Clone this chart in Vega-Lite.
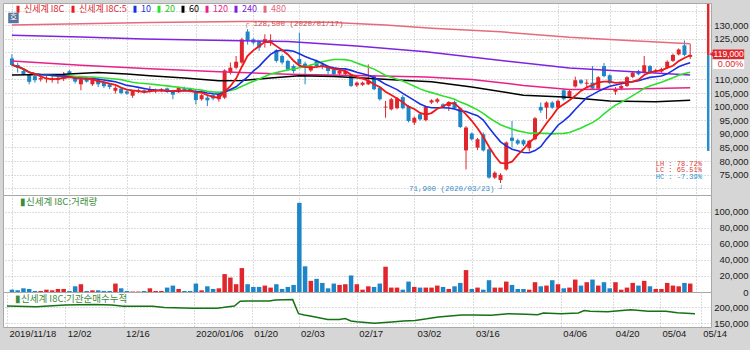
{
 "$schema": "https://vega.github.io/schema/vega-lite/v6.json",
 "padding": {"left": 2, "top": 2, "right": 4, "bottom": 12},
 "background": "#d6d6d6",
 "spacing": 0,
 "bounds": "flush",
 "data": {"values": [
  {"d":"2019-11-18","o":117700,"h":119200,"l":115000,"c":115300,"v":2900,"ma60":111600,"ma120":116800,"ma240":126200,"ma480":130000,"inst":204000},
  {"d":"2019-11-19","o":115300,"h":116100,"l":112500,"c":114200,"v":2100},
  {"d":"2019-11-20","o":113100,"h":113700,"l":111500,"c":111900,"v":4600},
  {"d":"2019-11-21","o":111600,"h":112000,"l":108200,"c":109100,"v":3800},
  {"d":"2019-11-22","o":111200,"h":111900,"l":108800,"c":109700,"v":1300},
  {"d":"2019-11-25","o":110000,"h":111600,"l":109200,"c":110500,"v":1300,"inst":202000},
  {"d":"2019-11-26","o":110200,"h":111200,"l":108800,"c":110500,"v":2900},
  {"d":"2019-11-27","o":110000,"h":111900,"l":108800,"c":110400,"v":2100},
  {"d":"2019-11-28","o":109800,"h":111200,"l":108400,"c":110200,"v":3800},
  {"d":"2019-11-29","o":110300,"h":112700,"l":109400,"c":111000,"v":3800,"ma60":111900},
  {"d":"2019-12-02","o":113000,"h":113400,"l":111900,"c":112100,"v":1300,"inst":207000},
  {"d":"2019-12-03","o":110600,"h":111200,"l":108500,"c":109200,"v":7100},
  {"d":"2019-12-04","o":108200,"h":110600,"l":106000,"c":110000,"v":9700,"ma120":115200,"ma240":125600,"ma480":130500},
  {"d":"2019-12-05","o":110400,"h":110900,"l":108800,"c":109200,"v":1300},
  {"d":"2019-12-06","o":108200,"h":110400,"l":107600,"c":110000,"v":2100},
  {"d":"2019-12-09","o":110000,"h":110400,"l":107200,"c":108200,"v":2100,"ma60":112500,"inst":209000},
  {"d":"2019-12-10","o":108900,"h":109300,"l":106800,"c":107500,"v":1300},
  {"d":"2019-12-11","o":108200,"h":108600,"l":106400,"c":107200,"v":1300},
  {"d":"2019-12-12","o":105800,"h":107500,"l":104800,"c":106900,"v":10500,"inst":207000},
  {"d":"2019-12-13","o":106600,"h":107000,"l":104500,"c":105000,"v":4600},
  {"d":"2019-12-16","o":105600,"h":106000,"l":104300,"c":104800,"v":1300,"ma60":112000,"inst":203000},
  {"d":"2019-12-17","o":104000,"h":106000,"l":103200,"c":105800,"v":600},
  {"d":"2019-12-18","o":105500,"h":106600,"l":105000,"c":106000,"v":600},
  {"d":"2019-12-19","o":106000,"h":106400,"l":104800,"c":105300,"v":1300,"ma240":124900},
  {"d":"2019-12-20","o":105600,"h":107500,"l":105200,"c":106200,"v":4600,"ma60":111300,"ma120":113900,"ma480":130900},
  {"d":"2019-12-23","o":105600,"h":106600,"l":105000,"c":106000,"v":1300,"inst":203000},
  {"d":"2019-12-24","o":105800,"h":106800,"l":105300,"c":106300,"v":1300},
  {"d":"2019-12-26","o":106700,"h":107000,"l":105000,"c":105500,"v":5500,"inst":199000},
  {"d":"2019-12-27","o":105900,"h":106200,"l":102700,"c":104400,"v":8000},
  {"d":"2019-12-30","o":105300,"h":107400,"l":105000,"c":107000,"v":3800},
  {"d":"2020-01-02","o":106800,"h":107300,"l":105600,"c":106200,"v":1300,"ma60":110500},
  {"d":"2020-01-03","o":106500,"h":106900,"l":105200,"c":106000,"v":1300},
  {"d":"2020-01-06","o":105500,"h":106300,"l":100800,"c":102400,"v":10500,"inst":197000},
  {"d":"2020-01-07","o":102700,"h":104600,"l":102200,"c":104200,"v":2100},
  {"d":"2020-01-08","o":103300,"h":104000,"l":100200,"c":102300,"v":7100},
  {"d":"2020-01-09","o":104200,"h":104600,"l":102300,"c":103000,"v":3800,"ma240":124400},
  {"d":"2020-01-10","o":102700,"h":105000,"l":101800,"c":104500,"v":4600,"ma60":109500,"ma120":112800,"inst":197000},
  {"d":"2020-01-13","o":103300,"h":113700,"l":102800,"c":113300,"v":22300,"inst":199000},
  {"d":"2020-01-14","o":112500,"h":116200,"l":111800,"c":114300,"v":18000},
  {"d":"2020-01-15","o":114300,"h":118600,"l":113700,"c":116500,"v":9700,"inst":204000},
  {"d":"2020-01-16","o":116200,"h":125300,"l":115800,"c":124700,"v":29800,"ma60":109600,"ma480":131300,"inst":219000},
  {"d":"2020-01-17","o":127600,"h":128500,"l":122800,"c":124400,"v":9700,"inst":220000},
  {"d":"2020-01-20","o":124700,"h":125200,"l":122800,"c":123500,"v":6300},
  {"d":"2020-01-21","o":124100,"h":124400,"l":120500,"c":121700,"v":6300},
  {"d":"2020-01-22","o":124100,"h":126600,"l":121700,"c":124800,"v":8000},
  {"d":"2020-01-23","o":124000,"h":126600,"l":122300,"c":124400,"v":5500,"ma60":110500,"inst":220000},
  {"d":"2020-01-28","o":120700,"h":121100,"l":116200,"c":116800,"v":9700,"inst":223000},
  {"d":"2020-01-29","o":118600,"h":119200,"l":115500,"c":116200,"v":3800},
  {"d":"2020-01-30","o":116800,"h":117200,"l":113100,"c":113700,"v":6300,"ma120":111900,"ma240":123900},
  {"d":"2020-01-31","o":114900,"h":115500,"l":112300,"c":113100,"v":8800,"inst":224000},
  {"d":"2020-02-03","o":117500,"h":127200,"l":114500,"c":115500,"v":111000,"ma60":111300,"inst":180000},
  {"d":"2020-02-04","o":115800,"h":116500,"l":108200,"c":114500,"v":32000,"inst":176000},
  {"d":"2020-02-05","o":113300,"h":115500,"l":112800,"c":114900,"v":13900,"inst":173000},
  {"d":"2020-02-06","o":116800,"h":117200,"l":114300,"c":114900,"v":16400},
  {"d":"2020-02-07","o":115500,"h":116000,"l":113700,"c":114600,"v":11300},
  {"d":"2020-02-10","o":114900,"h":115200,"l":111900,"c":113100,"v":4600,"ma480":131000,"inst":162000},
  {"d":"2020-02-11","o":113700,"h":114000,"l":111500,"c":111900,"v":10500,"ma60":111100},
  {"d":"2020-02-12","o":112100,"h":113500,"l":111600,"c":113100,"v":8800,"inst":162000},
  {"d":"2020-02-13","o":112000,"h":113700,"l":111500,"c":113100,"v":9700,"inst":165000},
  {"d":"2020-02-14","o":111300,"h":111600,"l":107200,"c":107600,"v":20600,"inst":157000},
  {"d":"2020-02-17","o":107800,"h":109200,"l":107200,"c":108800,"v":9700,"ma120":111400,"ma240":122300,"inst":155000},
  {"d":"2020-02-18","o":108000,"h":109200,"l":107600,"c":108800,"v":2900,"ma60":110500},
  {"d":"2020-02-19","o":108200,"h":115500,"l":107900,"c":109400,"v":7100,"inst":152000},
  {"d":"2020-02-20","o":111300,"h":111600,"l":106000,"c":106400,"v":6300,"inst":150000},
  {"d":"2020-02-21","o":107000,"h":107300,"l":102200,"c":102700,"v":10500},
  {"d":"2020-02-24","o":99700,"h":102100,"l":95900,"c":100000,"v":31500,"ma480":130000},
  {"d":"2020-02-25","o":99000,"h":103200,"l":98600,"c":102700,"v":5500,"inst":154000},
  {"d":"2020-02-26","o":99400,"h":103500,"l":99000,"c":103000,"v":5500,"ma60":109800},
  {"d":"2020-02-27","o":103500,"h":104200,"l":99000,"c":99400,"v":2900,"inst":157000},
  {"d":"2020-02-28","o":100200,"h":100600,"l":94200,"c":94700,"v":13000},
  {"d":"2020-03-02","o":94100,"h":96400,"l":93200,"c":95900,"v":6300,"inst":159000},
  {"d":"2020-03-03","o":97200,"h":97600,"l":94800,"c":95300,"v":5500},
  {"d":"2020-03-04","o":95000,"h":100300,"l":94600,"c":99900,"v":5500,"ma120":110900,"ma240":120200,"inst":164000},
  {"d":"2020-03-05","o":101500,"h":102700,"l":101000,"c":102300,"v":5500,"ma60":109100,"ma480":128800},
  {"d":"2020-03-06","o":101800,"h":103200,"l":101200,"c":102700,"v":8000,"inst":170000},
  {"d":"2020-03-09","o":100850,"h":101200,"l":99500,"c":99900,"v":6300},
  {"d":"2020-03-10","o":100200,"h":102000,"l":98400,"c":101700,"v":3800,"inst":173000},
  {"d":"2020-03-11","o":101700,"h":102200,"l":99000,"c":99400,"v":7100},
  {"d":"2020-03-12","o":99400,"h":99700,"l":92100,"c":92500,"v":11300,"inst":176000},
  {"d":"2020-03-13","o":83900,"h":92800,"l":76900,"c":92300,"v":27300},
  {"d":"2020-03-16","o":90100,"h":90500,"l":87500,"c":88000,"v":3800,"ma60":107200,"ma120":110000,"inst":176000},
  {"d":"2020-03-17","o":84900,"h":88500,"l":84000,"c":88000,"v":5500},
  {"d":"2020-03-18","o":89800,"h":90500,"l":83500,"c":83900,"v":2900},
  {"d":"2020-03-19","o":84300,"h":84800,"l":73500,"c":73900,"v":14700,"inst":175000},
  {"d":"2020-03-20","o":73900,"h":76200,"l":73400,"c":75700,"v":5500,"ma240":117200},
  {"d":"2020-03-23","o":73000,"h":75500,"l":71900,"c":74900,"v":5500,"ma480":127500},
  {"d":"2020-03-24","o":76900,"h":87200,"l":76500,"c":86800,"v":13000,"inst":180000},
  {"d":"2020-03-25","o":88600,"h":94700,"l":84900,"c":87400,"v":8800},
  {"d":"2020-03-26","o":87600,"h":88200,"l":85900,"c":86400,"v":3800},
  {"d":"2020-03-27","o":87600,"h":88000,"l":85500,"c":86100,"v":3800,"ma60":104200,"ma120":107800,"inst":178000},
  {"d":"2020-03-30","o":84700,"h":87800,"l":83500,"c":87400,"v":2900},
  {"d":"2020-03-31","o":88000,"h":96200,"l":87600,"c":95700,"v":12200,"inst":177000},
  {"d":"2020-04-01","o":99900,"h":101500,"l":97700,"c":98600,"v":7100,"inst":182000},
  {"d":"2020-04-02","o":99600,"h":101900,"l":95400,"c":101500,"v":8000},
  {"d":"2020-04-03","o":101500,"h":102000,"l":99200,"c":99600,"v":14700},
  {"d":"2020-04-06","o":99600,"h":102600,"l":99200,"c":102100,"v":9700,"inst":180000},
  {"d":"2020-04-07","o":106000,"h":106400,"l":102200,"c":102700,"v":4600,"ma60":103500},
  {"d":"2020-04-08","o":103600,"h":106100,"l":103200,"c":105700,"v":5500,"ma120":106300,"ma240":114200,"ma480":125500},
  {"d":"2020-04-09","o":107400,"h":111000,"l":107000,"c":109700,"v":15500,"inst":182000},
  {"d":"2020-04-10","o":109700,"h":110100,"l":108200,"c":108600,"v":8000,"inst":190000},
  {"d":"2020-04-13","o":108400,"h":110000,"l":106700,"c":108800,"v":12200,"inst":188000},
  {"d":"2020-04-14","o":108800,"h":114900,"l":106200,"c":106600,"v":15500},
  {"d":"2020-04-16","o":106600,"h":111200,"l":106200,"c":110800,"v":8000},
  {"d":"2020-04-17","o":114900,"h":116000,"l":110800,"c":111200,"v":12200,"inst":186000},
  {"d":"2020-04-20","o":111500,"h":111900,"l":108200,"c":108600,"v":4600,"ma60":102100},
  {"d":"2020-04-21","o":105500,"h":107200,"l":104300,"c":106400,"v":12200,"ma120":106400},
  {"d":"2020-04-22","o":106600,"h":108000,"l":106000,"c":107600,"v":2900,"inst":191000},
  {"d":"2020-04-23","o":107600,"h":111200,"l":107200,"c":110800,"v":5500,"inst":192000},
  {"d":"2020-04-24","o":110900,"h":112900,"l":110500,"c":112500,"v":11300,"ma240":112800,"ma480":124200,"inst":191000},
  {"d":"2020-04-27","o":113100,"h":113500,"l":111500,"c":111900,"v":8000},
  {"d":"2020-04-28","o":112500,"h":118600,"l":112100,"c":115200,"v":13900,"inst":188000},
  {"d":"2020-04-29","o":114900,"h":115300,"l":112100,"c":112500,"v":7100},
  {"d":"2020-05-04","o":112800,"h":113900,"l":112300,"c":113300,"v":3800,"ma60":101800},
  {"d":"2020-05-06","o":112900,"h":114300,"l":112500,"c":113800,"v":3800,"inst":188000},
  {"d":"2020-05-07","o":114300,"h":117000,"l":114000,"c":116500,"v":11300},
  {"d":"2020-05-08","o":116800,"h":119500,"l":116400,"c":119000,"v":8000,"inst":183000},
  {"d":"2020-05-11","o":119200,"h":121400,"l":118800,"c":121000,"v":7100},
  {"d":"2020-05-12","o":122500,"h":124300,"l":118500,"c":119000,"v":11300},
  {"d":"2020-05-13","o":118300,"h":123000,"l":117500,"c":119000,"v":10500,"ma60":102300,"ma120":106900,"ma240":111600,"ma480":123100,"inst":180000}
 ]},
 "config": {
  "view": {"fill": "white", "stroke": "#a8a8a8", "strokeWidth": 1},
  "font": "Liberation Sans",
  "axis": {"domain": false, "ticks": false, "grid": true, "gridColor": "#b8b8b8", "gridDash": [1, 2], "gridWidth": 1,
           "labelFont": "Liberation Sans", "labelFontSize": 9.5, "labelColor": "#1a1a1a", "labelOverlap": false}
 },
 "vconcat": [
  {
   "width": 708, "height": 192,
   "transform": [
    {"window": [{"op": "row_number", "as": "n"}], "sort": [{"field": "d"}]},
    {"window": [{"op": "mean", "field": "c", "as": "ma5"}], "frame": [-4, 0], "sort": [{"field": "d"}]},
    {"window": [{"op": "mean", "field": "c", "as": "ma10"}], "frame": [-9, 0], "sort": [{"field": "d"}]},
    {"window": [{"op": "mean", "field": "c", "as": "ma20"}], "frame": [-19, 0], "sort": [{"field": "d"}]}
   ],
   "encoding": {
    "x": {"field": "n", "type": "quantitative", "title": null,
          "scale": {"domain": [0.314, 121.75], "nice": false, "zero": false},
          "axis": {"values": [1, 11, 21, 33, 43, 51, 61, 71, 81, 96, 105, 113, 120], "labels": false, "grid": true}},
    "y": {"field": "l", "type": "quantitative", "title": null,
          "scale": {"domain": [67500, 138090], "nice": false, "zero": false},
          "axis": {"orient": "right", "values": [70000, 75000, 80000, 85000, 90000, 95000, 100000, 105000, 110000, 115000, 120000, 125000, 130000, 135000],
                   "labelExpr": "datum.value > 130000 || datum.value < 75000 || datum.value === 120000 || datum.value === 115000 ? '' : format(datum.value, ',')",
                   "labelAlign": "right", "labelPadding": 37, "labelOverlap": false}}
   },
   "layer": [
    {"mark": {"type": "rule", "strokeWidth": 1},
     "encoding": {
      "y2": {"field": "h"},
      "color": {"condition": {"test": "datum.c >= datum.o", "value": "#e0262c"}, "value": "#1e86c6"}
     }},
    {"mark": {"type": "bar", "size": 4, "orient": "vertical"},
     "encoding": {
      "y": {"field": "o", "type": "quantitative"},
      "y2": {"field": "c"},
      "color": {"condition": {"test": "datum.c >= datum.o", "value": "#e0262c"}, "value": "#1e86c6"}
     }},
    {"transform": [{"filter": "isValid(datum.ma480)"}],
     "mark": {"type": "line", "strokeWidth": 1.5},
     "encoding": {
      "y": {"field": "ma480", "type": "quantitative"},
      "color": {"datum": "480",
                "scale": {"domain": ["신세계 I8C", "신세계 I8C:5", "10", "20", "60", "120", "240", "480"],
                          "range": ["#e0262c", "#f01818", "#1830e0", "#2ee02e", "#000000", "#e8208a", "#7d24e0", "#e66a7c"]},
                "legend": {"title": null, "orient": "none", "legendX": 10, "legendY": 1, "direction": "horizontal",
                           "symbolType": "M0,-1V1", "symbolSize": 49, "symbolStrokeWidth": 3, "labelFont": "Noto Sans CJK KR",
                           "labelFontSize": 9, "labelOffset": 1, "columnPadding": 2, "padding": 0, "labelLimit": 200,
                           "encode": {"labels": {"update": {"fill": {"signal": "datum.value === '10' ? '#1830e0' : datum.value === '20' ? '#22c822' : datum.value === '60' ? '#000000' : datum.value === '120' ? '#e8208a' : datum.value === '240' ? '#7d24e0' : datum.value === '480' ? '#e66a7c' : '#e0262c'"}}}}}}
     }},
    {"transform": [{"filter": "isValid(datum.ma240)"}],
     "mark": {"type": "line", "strokeWidth": 1.5},
     "encoding": {"y": {"field": "ma240", "type": "quantitative"}, "color": {"datum": "240"}}},
    {"transform": [{"filter": "isValid(datum.ma120)"}],
     "mark": {"type": "line", "strokeWidth": 1.5},
     "encoding": {"y": {"field": "ma120", "type": "quantitative"}, "color": {"datum": "120"}}},
    {"transform": [{"filter": "isValid(datum.ma60)"}],
     "mark": {"type": "line", "strokeWidth": 1.5},
     "encoding": {"y": {"field": "ma60", "type": "quantitative"}, "color": {"datum": "60"}}},
    {"mark": {"type": "line", "strokeWidth": 1.6},
     "encoding": {"y": {"field": "ma20", "type": "quantitative"}, "color": {"datum": "20"}}},
    {"mark": {"type": "line", "strokeWidth": 1.6},
     "encoding": {"y": {"field": "ma10", "type": "quantitative"}, "color": {"datum": "10"}}},
    {"mark": {"type": "line", "strokeWidth": 1.8},
     "encoding": {"y": {"field": "ma5", "type": "quantitative"}, "color": {"datum": "신세계 I8C:5"}}},
    {"transform": [{"filter": "datum.h === 128500"}],
     "mark": {"type": "text", "align": "left", "baseline": "middle", "font": "Liberation Mono", "fontSize": 7.5, "color": "#d04848", "dx": -3, "dy": -5},
     "encoding": {"y": {"field": "h", "type": "quantitative"}, "text": {"value": "┌ 128,500 (2020/01/17)"}}},
    {"transform": [{"filter": "datum.l === 71900"}],
     "mark": {"type": "text", "align": "right", "baseline": "middle", "font": "Liberation Mono", "fontSize": 7.5, "color": "#3a8cc8", "dx": 3, "dy": 6},
     "encoding": {"y": {"field": "l", "type": "quantitative"}, "text": {"value": "71,900 (2020/03/23) ┘"}}},
    {"transform": [{"filter": "datum.n === 113"}],
     "mark": {"type": "text", "align": "left", "baseline": "middle", "font": "Liberation Mono", "fontSize": 7, "color": "#d83838", "dy": 93.3},
     "encoding": {"y": {"field": "c", "type": "quantitative"}, "text": {"value": "LH : 78.72%"}}},
    {"transform": [{"filter": "datum.n === 113"}],
     "mark": {"type": "text", "align": "left", "baseline": "middle", "font": "Liberation Mono", "fontSize": 7, "color": "#d83838", "dy": 100},
     "encoding": {"y": {"field": "c", "type": "quantitative"}, "text": {"value": "LC : 65.51%"}}},
    {"transform": [{"filter": "datum.n === 113"}],
     "mark": {"type": "text", "align": "left", "baseline": "middle", "font": "Liberation Mono", "fontSize": 7, "color": "#2f8fd0", "dy": 106.7},
     "encoding": {"y": {"field": "c", "type": "quantitative"}, "text": {"value": "HC : -7.39%"}}},
    {"transform": [{"filter": "datum.n === 119"}],
     "mark": {"type": "rule", "color": "#e0262c", "strokeWidth": 2.5, "xOffset": 18, "x2Offset": 18, "y2Offset": -51},
     "encoding": {"y": {"field": "c", "type": "quantitative"}, "y2": {"field": "c"}}},
    {"transform": [{"filter": "datum.n === 119"}],
     "mark": {"type": "rule", "color": "#2a8cc8", "strokeWidth": 2.5, "xOffset": 18, "x2Offset": 18, "y2Offset": 96},
     "encoding": {"y": {"field": "c", "type": "quantitative"}, "y2": {"field": "c"}}},
    {"transform": [{"filter": "datum.n === 119"}],
     "mark": {"type": "rect", "color": "#e0262c", "xOffset": 22.5, "x2Offset": 54, "yOffset": -5.5, "y2Offset": 4},
     "encoding": {"y": {"field": "c", "type": "quantitative"}, "x2": {"field": "n"}, "y2": {"field": "c"}}},
    {"transform": [{"filter": "datum.n === 119"}],
     "mark": {"type": "point", "shape": "triangle-left", "size": 18, "filled": true, "opacity": 1, "color": "#e0262c", "xOffset": 21, "yOffset": -0.7},
     "encoding": {"y": {"field": "c", "type": "quantitative"}}},
    {"transform": [{"filter": "datum.n === 119"}],
     "mark": {"type": "rect", "color": "white", "xOffset": 22.5, "x2Offset": 54, "yOffset": 5, "y2Offset": 14},
     "encoding": {"y": {"field": "c", "type": "quantitative"}, "x2": {"field": "n"}, "y2": {"field": "c"}}},
    {"transform": [{"filter": "datum.n === 119"}],
     "mark": {"type": "text", "align": "right", "baseline": "middle", "font": "Liberation Sans", "fontSize": 8.5, "color": "white", "dx": 53.5, "dy": -0.7},
     "encoding": {"y": {"field": "c", "type": "quantitative"}, "text": {"field": "c", "format": ","}}},
    {"transform": [{"filter": "datum.n === 119"}],
     "mark": {"type": "text", "align": "right", "baseline": "middle", "font": "Liberation Sans", "fontSize": 9, "color": "#e0262c", "dx": 53, "dy": 9.5},
     "encoding": {"y": {"field": "c", "type": "quantitative"}, "text": {"value": "0.00%"}}},
    {"transform": [{"filter": "datum.n === 1"}],
     "mark": {"type": "point", "shape": "square", "size": 110, "filled": true, "opacity": 1, "color": "#56749c", "xOffset": 1.5, "yOffset": -47},
     "encoding": {"y": {"field": "c", "type": "quantitative"}}},
    {"transform": [{"filter": "datum.n === 1"}],
     "mark": {"type": "text", "align": "center", "baseline": "middle", "font": "Noto Sans CJK KR", "fontSize": 8, "color": "white", "dx": 1.5, "dy": -47},
     "encoding": {"y": {"field": "c", "type": "quantitative"}, "text": {"value": "호"}}}
   ]
  },
  {
   "width": 708, "height": 97,
   "transform": [{"window": [{"op": "row_number", "as": "n"}], "sort": [{"field": "d"}]}],
   "encoding": {
    "x": {"field": "n", "type": "quantitative", "title": null,
          "scale": {"domain": [0.314, 121.75], "nice": false, "zero": false},
          "axis": {"values": [1, 11, 21, 33, 43, 51, 61, 71, 81, 96, 105, 113, 120], "labels": false, "grid": true}},
    "y": {"field": "v", "type": "quantitative", "title": null,
          "scale": {"domain": [0, 120800], "nice": false, "zero": false},
          "axis": {"orient": "right", "values": [0, 20000, 40000, 60000, 80000, 100000],
                   "labelExpr": "format(datum.value, ',')", "labelAlign": "right", "labelPadding": 37, "labelOverlap": false}}
   },
   "layer": [
    {"mark": {"type": "bar", "size": 4.5, "orient": "vertical"},
     "encoding": {
      "color": {"condition": {"test": "datum.c >= datum.o", "value": "#e0262c"}, "value": "#1e86c6"}
     }},
    {"transform": [{"filter": "datum.n === 1"}],
     "mark": {"type": "text", "align": "left", "baseline": "middle", "font": "Noto Sans CJK KR", "fontSize": 9.5, "color": "#3c8c3c", "dx": 8, "dy": -88},
     "encoding": {"text": {"value": "▮신세계 I8C:거래량"}}}
   ]
  },
  {
   "width": 708, "height": 35,
   "transform": [{"window": [{"op": "row_number", "as": "n"}], "sort": [{"field": "d"}]}],
   "encoding": {
    "x": {"field": "n", "type": "quantitative", "title": null,
          "scale": {"domain": [0.314, 121.75], "nice": false, "zero": false},
          "axis": {"values": [1, 11, 21, 33, 43, 51, 61, 71, 81, 96, 105, 113, 120], "grid": true,
                   "labelExpr": "['2019/11/18','12/02','12/16','2020/01/06','01/20','02/03','02/17','03/02','03/16','04/06','04/20','05/04','05/14'][indexof([1,11,21,33,43,51,61,71,81,96,105,113,120], datum.value)]",
                   "labelAlign": "left", "labelOffset": 2, "labelPadding": 1, "labelBaseline": "top"}},
    "y": {"field": "inst", "type": "quantitative", "title": null,
          "scale": {"domain": [138400, 247800], "nice": false, "zero": false},
          "axis": {"orient": "right", "values": [150000, 200000], "labelExpr": "format(datum.value, ',')", "labelAlign": "right", "labelPadding": 37, "labelOverlap": false}}
   },
   "layer": [
    {"transform": [{"filter": "isValid(datum.inst)"}],
     "mark": {"type": "line", "strokeWidth": 1.5, "color": "#137213"}},
    {"transform": [{"filter": "datum.n === 1"}],
     "mark": {"type": "text", "align": "left", "baseline": "middle", "font": "Noto Sans CJK KR", "fontSize": 9.5, "color": "#3c8c3c", "dx": 8, "dy": -6.7},
     "encoding": {"text": {"value": "▮신세계 I8C:기관순매수누적"}}}
   ]
  }
 ]
}
